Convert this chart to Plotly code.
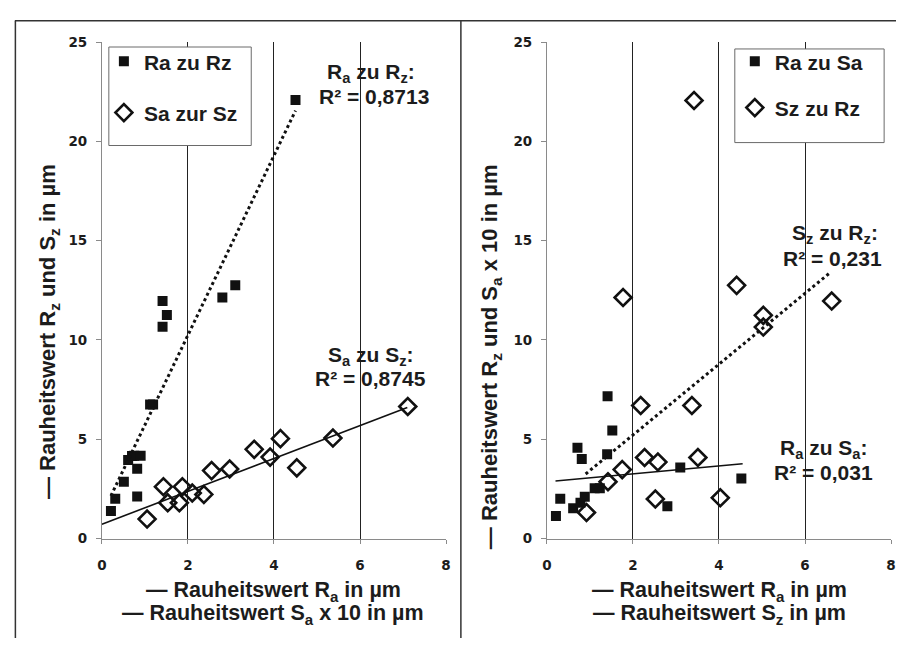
import plotly.graph_objects as go

# ---------------- data ----------------
# left chart: Ra zu Rz (squares) and Sa zur Sz (diamonds)
ra_left = [0.21, 0.31, 0.51, 0.61, 0.70, 0.75, 0.90, 0.82, 0.82, 1.12, 1.19, 1.41, 1.51, 1.41, 2.80, 3.10, 4.50]
rz_left = [1.39, 2.00, 2.86, 3.95, 4.15, 4.17, 4.17, 3.51, 2.12, 6.75, 6.75, 11.96, 11.26, 10.67, 12.14, 12.75, 22.09]
sa10_left = [1.05, 1.43, 1.53, 1.80, 1.87, 2.10, 2.37, 2.55, 2.97, 3.54, 3.91, 4.15, 4.53, 5.37, 7.11]
sz_left = [0.98, 2.61, 1.80, 1.80, 2.61, 2.29, 2.22, 3.42, 3.50, 4.49, 4.10, 5.03, 3.56, 5.06, 6.65]
trend_rarz_x = [0.21, 4.50]
trend_rarz_y = [2.15, 21.55]
trend_sasz_x = [0.0, 7.10]
trend_sasz_y = [0.72, 6.60]

# right chart: Ra zu Sa (squares) and Sz zu Rz (diamonds)
ra_right = [0.21, 0.31, 0.61, 0.71, 0.81, 0.78, 0.88, 1.11, 1.23, 1.41, 1.52, 1.40, 2.80, 3.10, 4.52]
sa10_right = [1.14, 2.00, 1.52, 4.57, 4.00, 1.80, 2.10, 2.53, 2.53, 7.17, 5.44, 4.25, 1.63, 3.58, 3.02]
sz_right = [0.92, 1.42, 1.75, 2.18, 2.27, 2.58, 2.52, 3.37, 3.51, 4.03, 1.77, 4.41, 5.03, 5.03, 6.62, 3.42]
rz_right = [1.31, 2.86, 3.47, 6.70, 4.08, 3.85, 1.99, 6.70, 4.08, 2.05, 12.14, 12.75, 11.24, 10.65, 11.96, 22.06]
trend_szrz_x = [0.90, 6.60]
trend_szrz_y = [3.25, 13.42]
trend_rasa_x = [0.20, 4.55]
trend_rasa_y = [2.90, 3.77]

x_ticks = [0, 2, 4, 6, 8]
y_ticks = [0, 5, 10, 15, 20, 25]

# ---------------- figure ----------------
W, H = 901, 646
FONT = "Arial, 'Liberation Sans', sans-serif"
TICKFONT = "'DejaVu Sans', Arial, sans-serif"
TXT = "#1c1c1c"


def px(x):
    return x / W


def py(y):
    return 1 - y / H


sq = dict(symbol="square", size=10, color="#111111")
dm = dict(symbol="diamond-open", size=13, color="#111111", line=dict(width=2.6, color="#111111"))

fig = go.Figure()
fig.add_trace(go.Scatter(x=ra_left, y=rz_left, mode="markers", marker=sq, name="Ra zu Rz",
                         xaxis="x", yaxis="y", legend="legend", legendgroup="a"))
fig.add_trace(go.Scatter(x=sa10_left, y=sz_left, mode="markers", marker=dm, name="Sa zur Sz",
                         xaxis="x", yaxis="y", legend="legend", legendgroup="b"))
fig.add_trace(go.Scatter(x=trend_rarz_x, y=trend_rarz_y, mode="lines", showlegend=False,
                         line=dict(color="#111111", width=3, dash="dot"), xaxis="x", yaxis="y"))
fig.add_trace(go.Scatter(x=trend_sasz_x, y=trend_sasz_y, mode="lines", showlegend=False,
                         line=dict(color="#111111", width=1.6), xaxis="x", yaxis="y"))

fig.add_trace(go.Scatter(x=ra_right, y=sa10_right, mode="markers", marker=sq, name="Ra zu Sa",
                         xaxis="x2", yaxis="y2", legend="legend2", legendgroup="c"))
fig.add_trace(go.Scatter(x=sz_right, y=rz_right, mode="markers", marker=dm, name="Sz zu Rz",
                         xaxis="x2", yaxis="y2", legend="legend2", legendgroup="d"))
fig.add_trace(go.Scatter(x=trend_szrz_x, y=trend_szrz_y, mode="lines", showlegend=False,
                         line=dict(color="#111111", width=3, dash="dot"), xaxis="x2", yaxis="y2"))
fig.add_trace(go.Scatter(x=trend_rasa_x, y=trend_rasa_y, mode="lines", showlegend=False,
                         line=dict(color="#111111", width=1.6), xaxis="x2", yaxis="y2"))

xax = dict(range=[0, 8], tickvals=x_ticks, showgrid=True, gridcolor="#222222", gridwidth=1,
           zeroline=False, showline=True, linecolor="#8a8a8a", linewidth=1, ticks="outside",
           ticklen=4, tickcolor="#8a8a8a", tickfont=dict(family=TICKFONT, size=13.5, color=TXT, weight=700),
           ticklabelstandoff=10, fixedrange=True)
yax = dict(range=[0, 25], tickvals=y_ticks, showgrid=False, zeroline=False, showline=True,
           linecolor="#8a8a8a", linewidth=1, ticks="outside", ticklen=5, tickcolor="#8a8a8a",
           tickfont=dict(family=TICKFONT, size=13.5, color=TXT, weight=700), ticklabelstandoff=6,
           fixedrange=True)

y0, y1 = py(544), py(35)
fig.update_layout(
    width=W, height=H, margin=dict(l=0, r=0, t=0, b=0),
    paper_bgcolor="white", plot_bgcolor="white",
    xaxis=dict(xax, domain=[px(98), px(446)], anchor="y"),
    yaxis=dict(yax, domain=[y0, y1], anchor="x"),
    xaxis2=dict(xax, domain=[px(548), px(896)], anchor="y2"),
    yaxis2=dict(yax, domain=[y0, y1], anchor="x2"),
    legend=dict(x=px(100), y=py(34), xanchor="left", yanchor="top", bgcolor="rgba(0,0,0,0)",
                borderwidth=0, tracegroupgap=21,
                font=dict(family=FONT, size=21, color=TXT, weight=700)),
    legend2=dict(x=px(738), y=py(34), xanchor="left", yanchor="top", bgcolor="rgba(0,0,0,0)",
                 borderwidth=0, tracegroupgap=16,
                 font=dict(family=FONT, size=21, color=TXT, weight=700)),
    showlegend=True,
)

# legend boxes and frame lines
shapes = [
    dict(type="rect", xref="paper", yref="paper", x0=px(105), x1=px(249), y0=py(141), y1=py(40),
         line=dict(color="#6a6a6a", width=1), fillcolor="white", layer="above"),
    dict(type="rect", xref="paper", yref="paper", x0=px(738), x1=px(889), y0=py(138), y1=py(42),
         line=dict(color="#6a6a6a", width=1), fillcolor="white", layer="above"),
    dict(type="line", xref="paper", yref="paper", x0=px(10), x1=1, y0=py(13), y1=py(13),
         line=dict(color="#333333", width=1.5)),
    dict(type="line", xref="paper", yref="paper", x0=px(10.5), x1=px(10.5), y0=py(13), y1=0,
         line=dict(color="#333333", width=1.5)),
    dict(type="line", xref="paper", yref="paper", x0=px(461), x1=px(461), y0=py(13), y1=0,
         line=dict(color="#333333", width=1.5)),
]
fig.update_layout(shapes=shapes)

ann_font = dict(family=FONT, size=21, color=TXT, weight=700)
title_font = dict(family=FONT, size=21.5, color=TXT, weight=700)
ytitle_font = dict(family=FONT, size=22, color=TXT, weight=700)


def add_text(text, x, y, angle=0, font=ann_font, yanchor="middle"):
    fig.add_annotation(text=text, x=px(x), y=py(y), xref="paper", yref="paper", showarrow=False,
                       xanchor="center", yanchor=yanchor, textangle=angle, font=font)


add_text("R<sub>a</sub> zu R<sub>z</sub>:", 370, 67)
add_text("R² = 0,8713", 373, 91)
add_text("S<sub>a</sub> zu S<sub>z</sub>:", 370, 357)
add_text("R² = 0,8745", 370, 380)
add_text("S<sub>z</sub> zu R<sub>z</sub>:", 839, 232)
add_text("R² = 0,231", 837, 257)
add_text("R<sub>a</sub> zu S<sub>a</sub>:", 828, 452)
add_text("R² = 0,031", 828, 476)

add_text("— Rauheitswert R<sub>a</sub> in µm", 272, 598, font=title_font)
add_text("— Rauheitswert S<sub>a</sub> x 10 in µm", 271, 622, font=title_font)
add_text("— Rauheitswert R<sub>a</sub> in µm", 723, 598, font=title_font)
add_text("— Rauheitswert S<sub>z</sub> in µm", 723, 622, font=title_font)
add_text("— Rauheitswert R<sub>z</sub> und S<sub>z</sub> in µm", 44, 158, -90, font=ytitle_font, yanchor="top")
add_text("— Rauheitswert R<sub>z</sub> und S<sub>a</sub> x 10 in µm", 491, 158, -90, font=ytitle_font, yanchor="top")

fig.write_html("out.html")
